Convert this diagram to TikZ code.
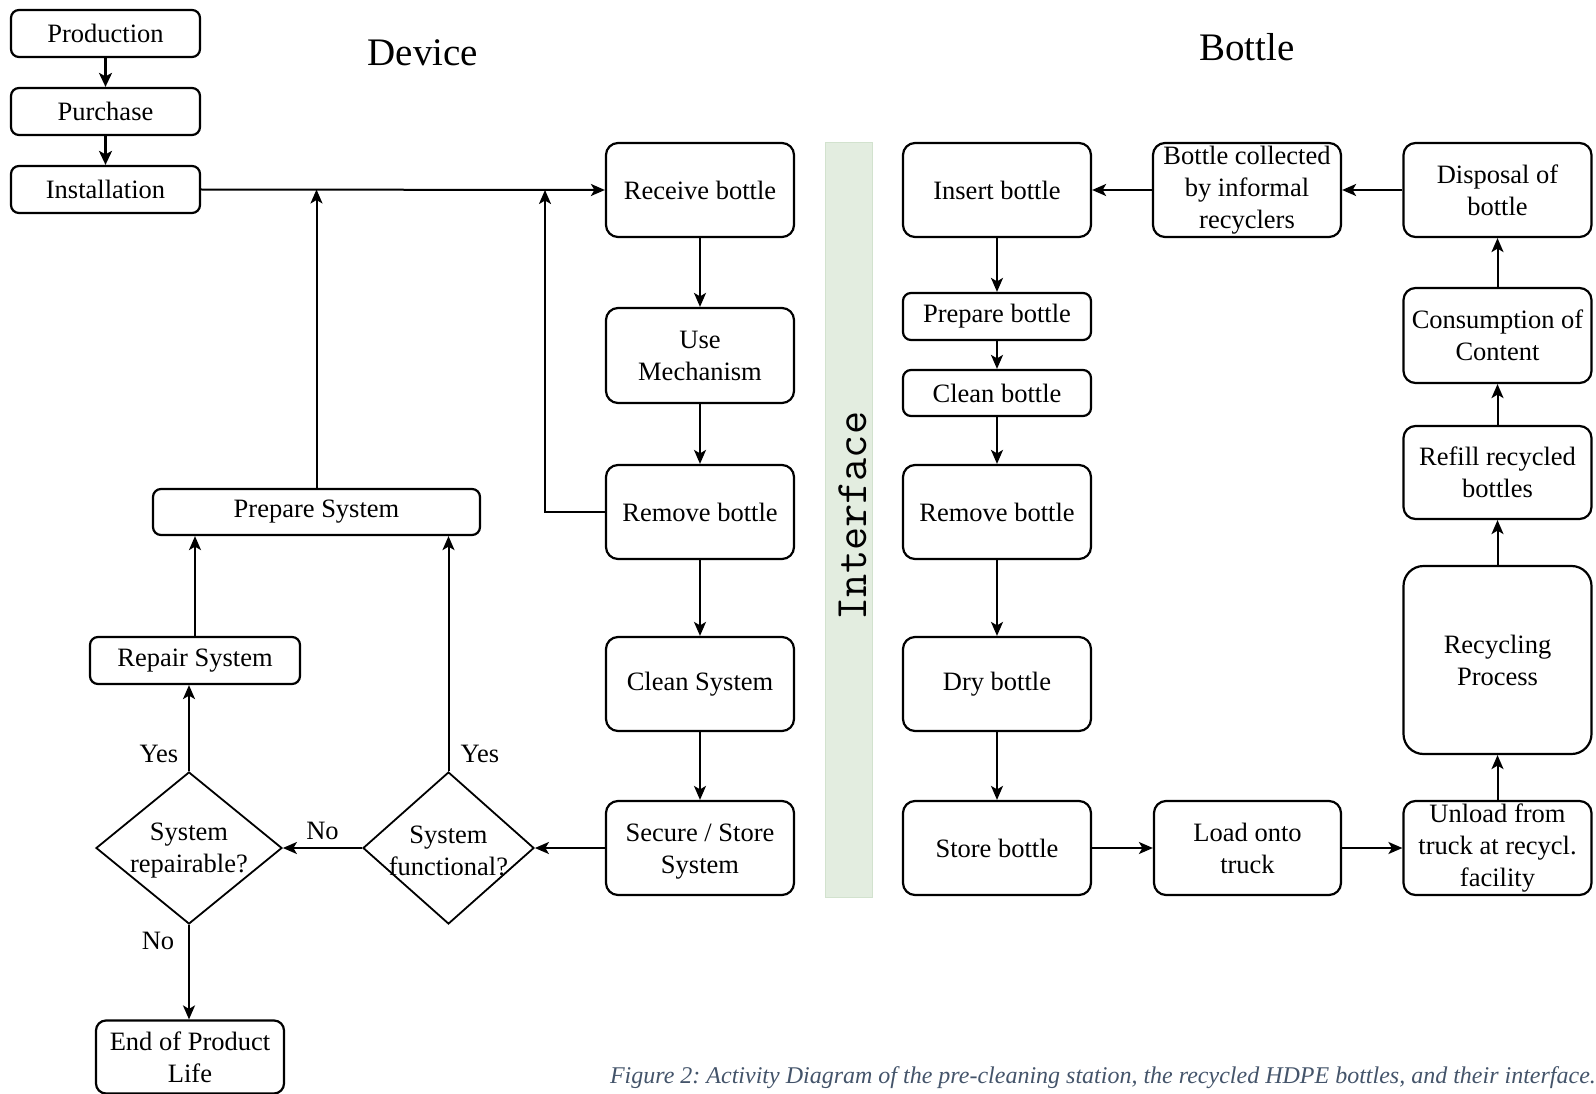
\documentclass[tikz,border=0pt]{standalone}
\usepackage{fontspec}
\setmainfont{Liberation Serif}
\usetikzlibrary{shapes.geometric,arrows.meta}
\definecolor{capcol}{HTML}{44546A}
\definecolor{ifill}{HTML}{E3EDE0}
\definecolor{idraw}{HTML}{D2E2CE}
\begin{document}
\frenchspacing
\begin{tikzpicture}[x=1pt,y=-1pt,
  every node/.style={font=\fontsize{26.5}{32}\selectfont},
  box/.style={draw,line width=2.2pt,rounded corners=12pt,minimum width=188pt,minimum height=94pt,align=center,inner sep=2pt},
  sbox/.style={draw,line width=2.2pt,rounded corners=8pt,minimum height=47pt,align=center,inner sep=2pt},
  dec/.style={draw,diamond,line width=1.8pt,inner sep=0pt},
  arr/.style={line width=2pt,-{Stealth[length=14pt,width=12pt,inset=3.5pt]}},
  tarr/.style={line width=2.7pt,-{Stealth[length=14pt,width=13pt,inset=3.5pt]}},
  lbl/.style={font=\fontsize{26.5}{32}\selectfont}
]
\useasboundingbox (0,0) rectangle (1596,1094);
% titles
\node[font=\fontsize{39}{44}\selectfont] (tdev) at (423,53) {Device};
\node[font=\fontsize{39}{44}\selectfont] (tbot) at (1247,47) {Bottle};
% interface band
\node[draw=idraw,fill=ifill,line width=1pt,minimum width=47pt,minimum height=754pt,inner sep=0pt] (iface) at (848.5,520) {};
\node[rotate=90,inner sep=0pt,font=\fontsize{45}{50}\ttfamily] (itext) at (853,516) {Interface};
% left top
\node[sbox,minimum width=189pt] (prod) at (105.5,33.5) {Production};
\node[sbox,minimum width=189pt] (purch) at (105.5,111.5) {Purchase};
\node[sbox,minimum width=189pt] (inst) at (105.5,189.5) {Installation};
% device column
\node[box] (recv) at (700,190) {Receive bottle};
\node[box,minimum height=95pt] (use) at (700,355.5) {Use\\Mechanism};
\node[box] (remD) at (700,512) {Remove bottle};
\node[box] (cleanS) at (700,684) {Clean System};
\node[box] (secure) at (700,848) {\rule{0pt}{24pt}Secure / Store\\System};
% left lower
\node[sbox,minimum width=327pt,minimum height=46pt] (prepS) at (316.5,512) {Prepare System};
\node[sbox,minimum width=210pt] (repS) at (195,660.5) {Repair System};
\node[dec,minimum width=186pt,minimum height=152pt,label={[yshift=-3pt,align=center,font=\fontsize{26.5}{32}\selectfont]center:System\\repairable?}] (drep) at (189,848) {};
\node[dec,minimum width=171pt,minimum height=152pt,label={[yshift=-3pt,align=center,font=\fontsize{26.5}{32}\selectfont]center:System\\functional?}] (dfun) at (448.5,848) {};
\node[box,rounded corners=10pt,minimum width=188pt,minimum height=73pt] (eol) at (190,1057) {End of Product\\Life};
\coordinate (j2) at (545,190);
% bottle column
\node[box] (ins) at (997,190) {Insert bottle};
\node[sbox,minimum width=188pt] (prepB) at (997,316.5) {Prepare bottle};
\node[sbox,minimum width=188pt,minimum height=46pt] (cleanB) at (997,393) {Clean bottle};
\node[box] (remB) at (997,512) {Remove bottle};
\node[box] (dry) at (997,684) {Dry bottle};
\node[box] (store) at (997,848) {Store bottle};
\node[box,minimum width=187pt] (load) at (1247.5,848) {Load onto\\truck};
\node[box] (unload) at (1497.5,848) {Unload from\\truck at recycl.\\facility};
\node[box,rounded corners=20pt,minimum height=188pt] (recyc) at (1497.5,660) {Recycling\\Process};
\node[box,minimum height=93pt] (refill) at (1497.5,472.5) {Refill recycled\\bottles};
\node[box,minimum height=95pt] (cons) at (1497.5,335.5) {Consumption of\\Content};
\node[box] (disp) at (1497.5,190) {Disposal of\\bottle};
\node[box] (coll) at (1247,190) {Bottle collected\\by informal\\recyclers};
% connectors left
\draw[tarr] (prod) -- (purch);
\draw[tarr] (purch) -- (inst);
\draw[arr] (inst.east) -- (recv.west);
\draw[arr] (prepS.north) -- (prepS.north |- inst.east);
\draw[arr] (remD.west) -| (j2);
\draw[arr] (recv) -- (use);
\draw[arr] (use) -- (remD);
\draw[arr] (remD) -- (cleanS);
\draw[arr] (cleanS) -- (secure);
\draw[arr] (secure.west) -- (dfun.east);
\draw[arr] (dfun.west) -- node[lbl,above=4pt] {No} (drep.east);
\draw[arr] (dfun.north) -- (dfun.north |- prepS.south);
\node[lbl] (yes2) at (480,754) {Yes};
\draw[arr] (drep.north) -- (drep.north |- repS.south);
\node[lbl] (yes1) at (159,754) {Yes};
\draw[arr] (repS.north) -- (repS.north |- prepS.south);
\draw[arr] (drep.south) -- (drep.south |- eol.north);
\node[lbl] (no2) at (158,941) {No};
% connectors bottle
\draw[arr] (ins) -- (prepB);
\draw[arr] (prepB) -- (cleanB);
\draw[arr] (cleanB) -- (remB);
\draw[arr] (remB) -- (dry);
\draw[arr] (dry) -- (store);
\draw[arr] (store) -- (load);
\draw[arr] (load) -- (unload);
\draw[arr] (unload) -- (recyc);
\draw[arr] (recyc) -- (refill);
\draw[arr] (refill) -- (cons);
\draw[arr] (cons) -- (disp);
\draw[arr] (disp) -- (coll);
\draw[arr] (coll) -- (ins);
% caption
\node[anchor=east,inner sep=0pt,text=capcol,font=\fontsize{24}{28}\selectfont\itshape] (cap) at (1596,1078) {Figure 2: Activity Diagram of the pre-cleaning station, the recycled HDPE bottles, and their interface.};
\end{tikzpicture}
\end{document}
